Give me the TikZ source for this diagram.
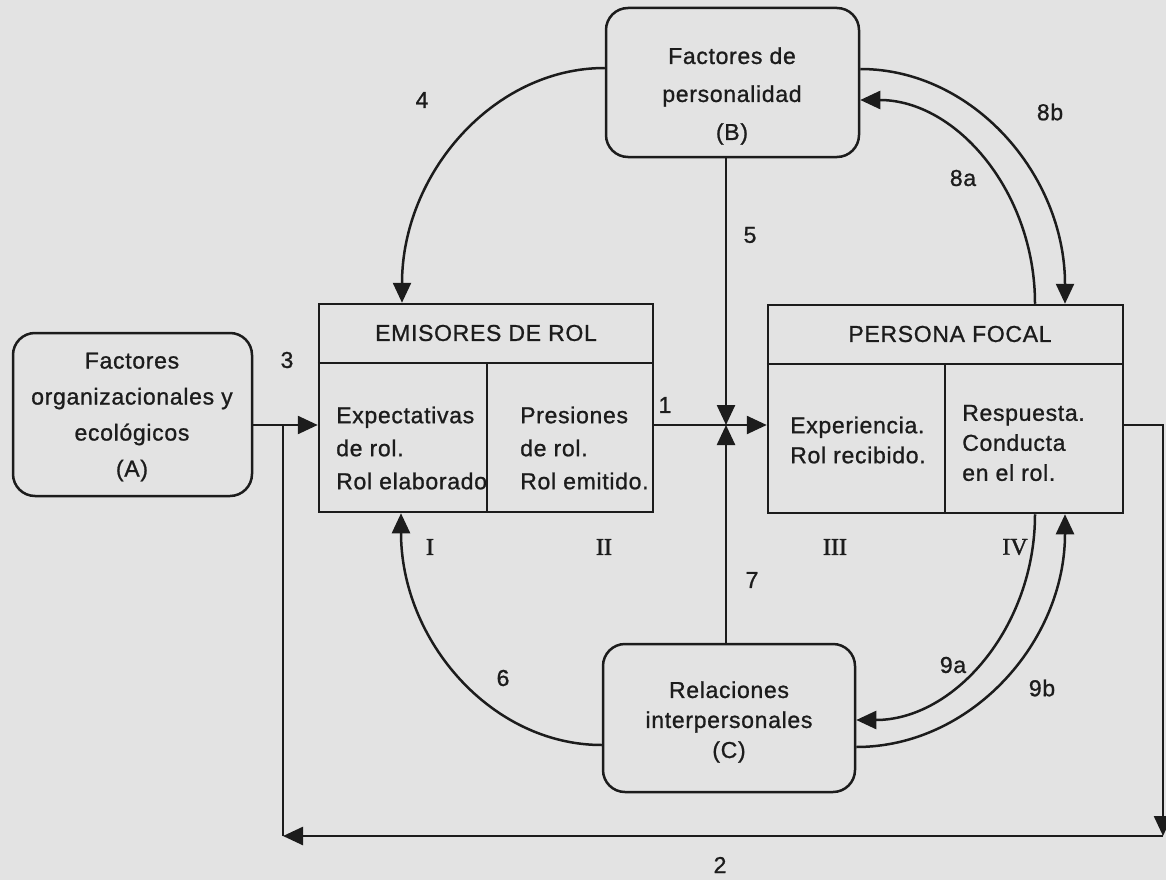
\documentclass[tikz,border=0pt]{standalone}
\usepackage{fontspec}
\setmainfont{Liberation Sans}[LetterSpace=3, FakeBold=1]
\newfontfamily\romfont{Liberation Serif}[FakeBold=1.5]
\usetikzlibrary{arrows.meta}
\definecolor{paper}{HTML}{E3E3E3}
\definecolor{ink}{HTML}{1C1C1C}
\begin{document}
\begin{tikzpicture}[x=1pt,y=-1pt,
  line width=2.5pt, draw=ink, text=ink,
  every node/.style={font=\fontsize{23}{33}\selectfont},
  roundbox/.style={draw, rounded corners=22pt, inner sep=0pt},
  rolebox/.style={draw, inner sep=0pt},
  blocktext/.style={align=center, inner sep=0pt},
  celltext/.style={align=left, anchor=west, inner sep=0pt},
  num/.style={inner sep=0pt},
  roman/.style={inner sep=0pt, font=\romfont\fontsize{24}{24}\selectfont},
  arr/.style={-{Triangle[length=20pt,width=18pt]}}]

% page
\fill[paper] (0,0) rectangle (1166,880);
\useasboundingbox (0,0) rectangle (1166,880);

% rounded factor boxes
\node[roundbox, minimum width=239pt, minimum height=163pt] (A) at (132.5,414.5) {};
\node[blocktext, font=\fontsize{23}{36}\selectfont] (Atxt) at (132,417) {Factores\\organizacionales y\\ecológicos\\(A)};

\node[roundbox, minimum width=253pt, minimum height=149pt] (B) at (732.5,82.5) {};
\node[blocktext, font=\fontsize{23}{38}\selectfont] (Btxt) at (732,96) {Factores de\\personalidad\\(B)};

\node[roundbox, minimum width=252pt, minimum height=148pt] (C) at (729,718) {};
\node[blocktext, font=\fontsize{23}{30}\selectfont] (Ctxt) at (729,722) {Relaciones\\interpersonales\\(C)};

% role senders
\node[rolebox, minimum width=334pt, minimum height=208pt] (emi) at (486,408) {};
\draw (emi.west |- 0,363) -- (emi.east |- 0,363);
\draw (487,363) -- (emi.south -| 487,0);
\node[num] (emihead) at (486,333) {EMISORES DE ROL};
\node[celltext] (emiA) at (335,448) {Expectativas\\de rol.\\Rol elaborado};
\node[celltext] (emiB) at (519,448) {Presiones\\de rol.\\Rol emitido.};

% focal person
\node[rolebox, minimum width=355pt, minimum height=208pt] (per) at (945.5,409) {};
\draw (per.west |- 0,364) -- (per.east |- 0,364);
\draw (945,364) -- (per.south -| 945,0);
\node[num] (perhead) at (950,334) {PERSONA FOCAL};
\node[celltext, font=\fontsize{23}{30}\selectfont] (perA) at (789,440) {Experiencia.\\Rol recibido.};
\node[celltext, font=\fontsize{23}{30}\selectfont] (perB) at (961,443) {Respuesta.\\Conducta\\en el rol.};

% junction points
\coordinate (cross) at (726,425);
\coordinate (join) at (283,425);
\coordinate (br) at (1163,836);
\coordinate (bl) at (283,836);

% straight connectors
\draw[arr] (emi.east |- cross) -- (per.west |- cross);
\draw[arr] (A.east |- cross) -- (emi.west |- cross);
\draw[arr] (B.south -| cross) -- (cross);
\draw[arr] (C.north -| cross) -- (cross);
\draw[arr] (per.east |- cross) -| (br);
\draw[arr] (br) -- (bl);
\draw (bl) -- (join);

% curved connectors
\draw[arr] (B.west |- 0,68) .. controls (493.3,68) and (402,173.7) .. (emi.north -| 402,0);
\draw[arr] (per.north -| 1035,0) .. controls (1035,191.8) and (956.2,100) .. (B.east |- 0,100);
\draw[arr] (B.east |- 0,69) .. controls (972.8,69) and (1065,174.7) .. (per.north -| 1065,0);
\draw[arr] (C.west |- 0,745) .. controls (491.4,745) and (401,640.7) .. (emi.south -| 401,0);
\draw[arr] (per.south -| 1035,0) .. controls (1035,627.3) and (954.4,720) .. (C.east |- 0,720);
\draw[arr] (C.east |- 0,747) .. controls (971,747) and (1065,642.2) .. (per.south -| 1065,0);

% connector numbers
\node[num] (n1) at (665,405) {1};
\node[num] (n2) at (720,865) {2};
\node[num] (n3) at (287,360) {3};
\node[num] (n4) at (422,100) {4};
\node[num] (n5) at (750,235) {5};
\node[num] (n6) at (503,678) {6};
\node[num] (n7) at (752,580) {7};
\node[num] (n8a) at (963,178) {8a};
\node[num] (n8b) at (1050,112) {8b};
\node[num] (n9a) at (953,665) {9a};
\node[num] (n9b) at (1042,688) {9b};

% stage numerals
\node[roman] (r1) at (430,547) {I};
\node[roman] (r2) at (604,547) {II};
\node[roman] (r3) at (835,547) {III};
\node[roman] (r4) at (1015,547) {IV};
\end{tikzpicture}
\end{document}
